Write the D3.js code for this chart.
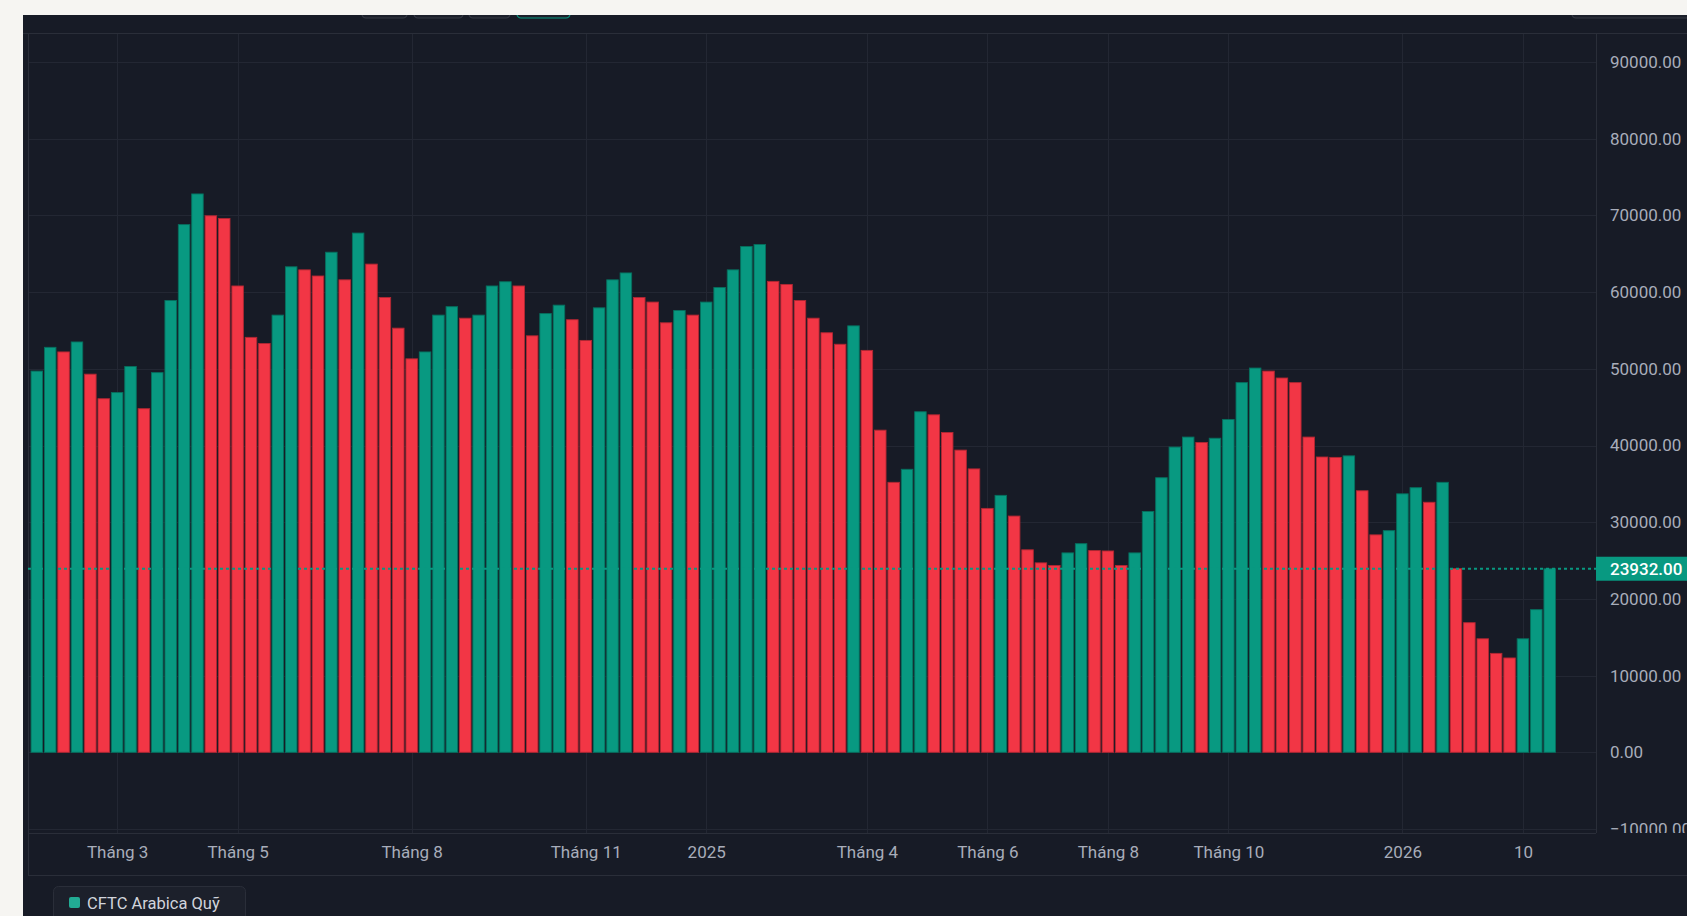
<!DOCTYPE html>
<html>
<head>
<meta charset="utf-8">
<script src="https://cdn.jsdelivr.net/npm/d3@7"></script>
<style>
  html, body { margin: 0; padding: 0; background: #f6f5f2; }
  svg { display: block; font-family: Roboto, "Noto Sans", sans-serif; }
</style>
</head>
<body>
<svg id="chart" width="1687" height="916"></svg>
<script>
// ---------------- DATA ----------------
const seriesName = "CFTC Arabica Quỹ";
const startDate = "2024-01-23"; // first weekly report (Tuesday)
const values = [
  49700, 52800, 52200, 53500, 49300, 46100, 46900, 50300, 44800, 49500,
  58900, 68800, 72800, 69950, 69600, 60800, 54100, 53300, 57000, 63300,
  62900, 62100, 65200, 61600, 67700, 63650, 59300, 55300, 51300, 52200,
  57000, 58100, 56600, 57000, 60800, 61350, 60800, 54300, 57200, 58300,
  56400, 53700, 57950, 61600, 62500, 59300, 58700, 56000, 57600, 57000,
  58700, 60600, 62900, 65950, 66200, 61400, 61000, 58900, 56600, 54700,
  53200, 55600, 52400, 42000, 35200, 36900, 44400, 44000, 41700, 39400,
  36950, 31800, 33500, 30800, 26400, 24700, 24350, 26000, 27200, 26300,
  26250, 24350, 26000, 31400, 35800, 39800, 41100, 40400, 40950, 43400,
  48200, 50100, 49700, 48800, 48200, 41100, 38500, 38450, 38650, 34100,
  28350, 28900, 33700, 34500, 32600, 35200, 23950, 16900, 14800, 12900,
  12300, 14800, 18600, 23932
];
const tickDates = ["2024-03-05","2024-05-07","2024-08-06","2024-11-05","2025-01-07",
                   "2025-04-01","2025-06-03","2025-08-05","2025-10-07","2026-01-06","2026-03-10"];
const tickLabels = ["Tháng 3","Tháng 5","Tháng 8","Tháng 11","2025",
                    "Tháng 4","Tháng 6","Tháng 8","Tháng 10","2026","10"];
const yTicks = [-10000, 0, 10000, 20000, 30000, 40000, 50000, 60000, 70000, 80000, 90000];

// ---------------- STYLE / LAYOUT ----------------
const W = 1687, H = 916;
const pageBg = "#f6f5f2", bg = "#171b26", grid = "#232733", border = "#2a2e39";
const up = "#089981", down = "#f23645", textCol = "#a8adba";
const pane = { left: 28, right: 1596, top: 33, bottom: 833 };
const xAxisBottom = 875;

const parse = d3.utcParse("%Y-%m-%d");
const fmtKey = d3.utcFormat("%Y-%m-%d");
const t0 = parse(startDate);
const data = values.map((v, i) => ({
  date: d3.utcDay.offset(t0, 7 * i),
  value: v,
  prev: i > 0 ? values[i - 1] : null
}));
const keys = data.map(d => fmtKey(d.date));

const x = d3.scalePoint().domain(keys).range([36.8, 1549.7]);
const y = d3.scaleLinear().domain([-10000, 90000]).range([829, 62]);
const barW = x.step() * 0.86;

const svg = d3.select("#chart");

// page + dark area
svg.append("rect").attr("width", W).attr("height", H).attr("fill", pageBg);
svg.append("rect").attr("x", 23).attr("y", 15).attr("width", W - 23).attr("height", H - 15).attr("fill", bg);

// toolbar buttons peeking from top
const btns = [[362, 407, false], [414, 463, false], [469, 510, false], [517, 570, true], [1572, 1700, false]];
svg.append("g").selectAll("rect").data(btns).join("rect")
  .attr("x", d => d[0]).attr("y", -12).attr("width", d => d[1] - d[0]).attr("height", 30)
  .attr("rx", 4).attr("fill", "#1c202b")
  .attr("stroke", d => d[2] ? up : "#363a45").attr("stroke-width", 1.2);
svg.append("rect").attr("x", 0).attr("y", 0).attr("width", W).attr("height", 15).attr("fill", pageBg);
svg.append("rect").attr("x", 0).attr("y", 0).attr("width", 23).attr("height", H).attr("fill", pageBg);

// grid
const gGrid = svg.append("g").attr("shape-rendering", "crispEdges");
gGrid.selectAll(".hg").data(yTicks).join("line")
  .attr("x1", pane.left).attr("x2", pane.right)
  .attr("y1", d => Math.round(y(d)) + 0.5).attr("y2", d => Math.round(y(d)) + 0.5)
  .attr("stroke", grid);
gGrid.selectAll(".vg").data(tickDates).join("line")
  .attr("x1", d => Math.round(x(d)) + 0.5).attr("x2", d => Math.round(x(d)) + 0.5)
  .attr("y1", pane.top).attr("y2", pane.bottom)
  .attr("stroke", grid);

// borders
const gB = svg.append("g").attr("stroke", border).attr("shape-rendering", "crispEdges");
gB.append("line").attr("x1", 23).attr("x2", W).attr("y1", pane.top + 0.5).attr("y2", pane.top + 0.5);
gB.append("line").attr("x1", pane.left + 0.5).attr("x2", pane.left + 0.5).attr("y1", pane.top).attr("y2", xAxisBottom);
gB.append("line").attr("x1", pane.left).attr("x2", pane.right).attr("y1", pane.bottom + 0.5).attr("y2", pane.bottom + 0.5);
gB.append("line").attr("x1", pane.right + 0.5).attr("x2", pane.right + 0.5).attr("y1", pane.top).attr("y2", pane.bottom);
gB.append("line").attr("x1", pane.left).attr("x2", W).attr("y1", xAxisBottom + 0.5).attr("y2", xAxisBottom + 0.5);

// bars
const colorOf = d => (d.prev === null || d.value > d.prev) ? up : down;
svg.append("g").selectAll("rect").data(data).join("rect")
  .attr("x", d => x(fmtKey(d.date)) - barW / 2)
  .attr("width", barW)
  .attr("y", d => y(Math.max(0, d.value)))
  .attr("height", d => Math.abs(y(d.value) - y(0)))
  .attr("fill", colorOf)
  .attr("stroke", d => d3.color(colorOf(d)).darker(0.9))
  .attr("stroke-width", 0.9);

// last value dotted line
const last = data[data.length - 1];
svg.append("line")
  .attr("x1", pane.left).attr("x2", pane.right)
  .attr("y1", y(last.value)).attr("y2", y(last.value))
  .attr("stroke", up).attr("stroke-width", 2).attr("stroke-dasharray", "3,3");

// y-axis labels (clipped to pane rows, as in the reference)
svg.append("clipPath").attr("id", "yclip").append("rect")
  .attr("x", pane.right).attr("y", pane.top).attr("width", W - pane.right).attr("height", pane.bottom - pane.top);
const fmtY = d3.format(".2f");
const yWrap = svg.append("g").attr("clip-path", "url(#yclip)");
const yAxisG = yWrap.append("g").attr("transform", `translate(${pane.right},0)`);
yAxisG.call(d3.axisRight(y).tickValues(yTicks).tickFormat(fmtY).tickSize(0).tickPadding(14))
  .call(g => g.select(".domain").remove())
  .call(g => g.selectAll("text").attr("fill", textCol).attr("font-size", 17).attr("font-family", "Roboto"));

// price label
const py = y(last.value);
svg.append("rect").attr("x", pane.right).attr("y", py - 12).attr("width", W - pane.right).attr("height", 24)
  .attr("fill", up);
svg.append("text").attr("x", pane.right + 14).attr("y", py).attr("dy", "0.35em")
  .attr("fill", "#ffffff").attr("font-size", 17).attr("font-weight", 500).text(fmtY(last.value));

// x-axis labels
const xAxisG = svg.append("g").attr("transform", `translate(0,${pane.bottom})`);
xAxisG.call(d3.axisBottom(x).tickValues(tickDates).tickFormat((d, i) => tickLabels[i]).tickSize(0).tickPadding(13))
  .call(g => g.select(".domain").remove())
  .call(g => g.selectAll("text").attr("fill", textCol).attr("font-size", 17).attr("font-family", "Roboto"));

// legend
const lg = svg.append("g");
lg.append("rect").attr("x", 53.5).attr("y", 886.5).attr("width", 192).attr("height", 40).attr("rx", 5)
  .attr("fill", "#1c202b").attr("stroke", border);
lg.append("rect").attr("x", 69).attr("y", 897).attr("width", 11).attr("height", 11).attr("rx", 2).attr("fill", "#22ab94");
lg.append("text").attr("x", 87).attr("y", 903).attr("dy", "0.35em")
  .attr("fill", "#d1d4dc").attr("font-size", 16.5).text(seriesName);
</script>
</body>
</html>
